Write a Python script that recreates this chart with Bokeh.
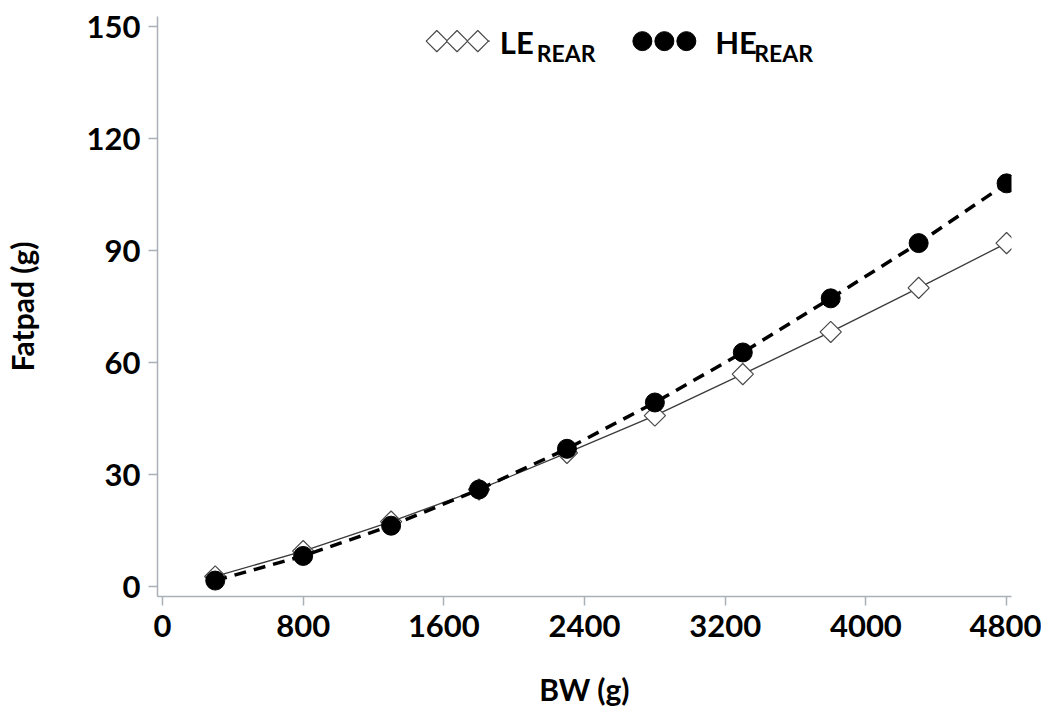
import numpy as np
from bokeh.plotting import figure
from bokeh.models import Range1d, FixedTicker, Label
from bokeh.embed import file_html
from bokeh.resources import INLINE

# ---- data ----
bw = [300, 800, 1300, 1800, 2300, 2800, 3300, 3800, 4300, 4800]
le_rear = [2.7, 9.5, 17.4, 26.0, 35.8, 45.8, 56.9, 68.2, 80.0, 92.0]
he_rear = [1.6, 8.2, 16.3, 26.0, 36.9, 49.3, 62.7, 77.2, 92.0, 108.0]
x_ticks = [0, 800, 1600, 2400, 3200, 4000, 4800]
y_ticks = [0, 30, 60, 90, 120, 150]
x_title = "BW (g)"
y_title = "Fatpad (g)"
series_names = ["LE", "HE"]
sub_name = "REAR"

# legend sample positions (data units)
leg_le_x = [1560, 1675, 1793]
leg_le_line = [1498, 1861]
leg_he_x = [2729, 2854, 2979]
leg_y = 146.1

FONT = "Lato"

p = figure(width=1041, height=709, output_backend="svg", toolbar_location=None,
           x_range=Range1d(-28.4, 4828), y_range=Range1d(-2.67, 152.7),
           min_border_left=156, min_border_right=30, min_border_top=16,
           min_border_bottom=111)
p.outline_line_color = None
p.grid.visible = False
p.background_fill_color = "white"
p.border_fill_color = "white"

for ax in (p.xaxis[0], p.yaxis[0]):
    ax.axis_line_color = "#a9b0b7"
    ax.axis_line_width = 1.5
    ax.major_tick_line_color = "#a9b0b7"
    ax.major_tick_line_width = 1.5
    ax.major_tick_out = 9
    ax.major_tick_in = 0
    ax.minor_tick_line_color = None
    ax.major_label_text_font = FONT
    ax.major_label_text_font_style = "bold"
    ax.major_label_text_font_size = "31px"
    ax.major_label_text_color = "black"
    ax.axis_label_text_font = FONT
    ax.axis_label_text_font_style = "bold"
    ax.axis_label_text_font_size = "30px"
    ax.axis_label_text_color = "black"

p.xaxis.ticker = FixedTicker(ticks=x_ticks)
p.yaxis.ticker = FixedTicker(ticks=y_ticks)
p.xaxis.axis_label = x_title
p.yaxis.axis_label = y_title
p.xaxis.major_label_standoff = 9
p.yaxis.major_label_standoff = 8
p.xaxis.axis_label_standoff = 31
p.yaxis.axis_label_standoff = 44

# LE series: thin solid line + open diamonds
p.line(bw, le_rear, line_color="#3a3a3a", line_width=1.3)
p.scatter(bw, le_rear, marker="square", angle=np.pi / 4, size=15,
          fill_color="white", line_color="#4a4a4a", line_width=1.2)

# HE series: thick dashed line + filled circles
p.line(bw, he_rear, line_color="black", line_width=3.5, line_dash="12 8")
p.scatter(bw, he_rear, marker="circle", size=19,
          fill_color="black", line_color="black")

# legend
p.line(leg_le_line, [leg_y] * 2, line_color="#3a3a3a", line_width=1.3)
p.scatter(leg_le_x, [leg_y] * 3, marker="square", angle=np.pi / 4, size=15,
          fill_color="white", line_color="#4a4a4a", line_width=1.2)
p.scatter(leg_he_x, [leg_y] * 3, marker="circle", size=19,
          fill_color="black", line_color="black")

for name, xm, xs in [(series_names[0], 1918, 2128), (series_names[1], 3143, 3365)]:
    p.add_layout(Label(x=xm, y=146.0, text=name, text_font=FONT,
                       text_font_style="bold", text_font_size="31px",
                       text_baseline="alphabetic", text_color="black"))
    p.add_layout(Label(x=xs, y=143.0, text=sub_name, text_font=FONT,
                       text_font_style="bold", text_font_size="23px",
                       text_baseline="alphabetic", text_color="black"))

open("out.html", "w").write(file_html(p, INLINE))
